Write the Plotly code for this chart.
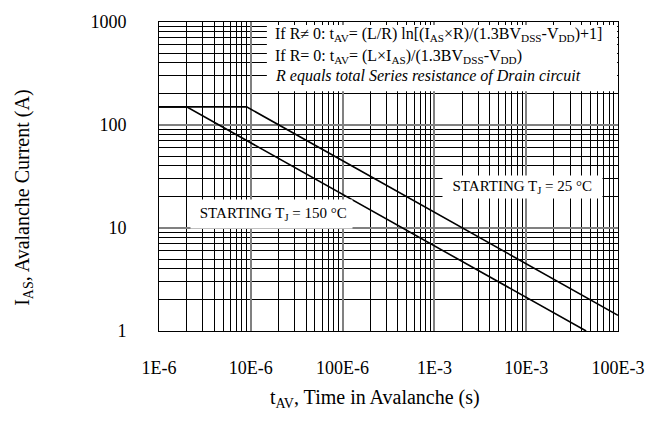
import plotly.graph_objects as go

# ---- data ----
t_25 = [1e-6, 9e-6, 1e-1]          # seconds
i_25 = [150, 150, 1.42]            # amps
t_150 = [1e-6, 2e-6, 4.5e-2]
i_150 = [150, 150, 1.0]

x_tickvals = [1e-6, 1e-5, 1e-4, 1e-3, 1e-2, 1e-1]
x_ticktext = ["1E-6", "10E-6", "100E-6", "1E-3", "10E-3", "100E-3"]
y_tickvals = [1, 10, 100, 1000]
y_ticktext = ["1", "10", "100", "1000"]

FONT = "Liberation Serif"

x_minor = [m * d for d in x_tickvals[:-1] for m in range(2, 10)]
y_minor = [m * d for d in y_tickvals[:-1] for m in range(2, 10)]

fig = go.Figure()
fig.add_trace(go.Scatter(x=t_25, y=i_25, mode="lines",
                         line=dict(color="black", width=1.6), showlegend=False))
fig.add_trace(go.Scatter(x=t_150, y=i_150, mode="lines",
                         line=dict(color="black", width=1.6), showlegend=False))

axis_common = dict(
    type="log", showgrid=True, gridcolor="#808080", gridwidth=2,
    showline=True, linecolor="black", linewidth=1, mirror=True,
    ticks="", zeroline=False,
    tickfont=dict(family=FONT, size=18, color="black"),
)

fig.update_xaxes(range=[-6, -1], tickvals=x_tickvals, ticktext=x_ticktext,
                 ticklabelstandoff=20,
                 minor=dict(tickvals=x_minor, showgrid=True, gridcolor="black",
                            gridwidth=1, ticks=""),
                 **axis_common)
fig.update_yaxes(range=[0, 3], tickvals=y_tickvals, ticktext=y_ticktext,
                 ticklabelstandoff=28,
                 minor=dict(tickvals=y_minor, showgrid=True, gridcolor="black",
                            gridwidth=1, ticks=""),
                 **axis_common)

# white box behind the formula text
fig.add_shape(type="rect", xref="paper", yref="paper",
              x0=0.235, x1=0.998, y0=0.776, y1=0.990,
              fillcolor="white", line=dict(width=0), layer="above")

ann = []
formula_lines = [
    ("If R\u2260 0: t<sub>AV</sub>= (L/R) ln[(I<sub>AS</sub>\u00d7R)/(1.3BV<sub>DSS</sub>-V<sub>DD</sub>)+1]", 0.958),
    ("If R= 0: t<sub>AV</sub>= (L\u00d7I<sub>AS</sub>)/(1.3BV<sub>DSS</sub>-V<sub>DD</sub>)", 0.888),
    ("<i>R equals total Series resistance of Drain circuit</i>", 0.826),
]
for txt, yy in formula_lines:
    ann.append(dict(text=txt, xref="paper", yref="paper", x=0.248, y=yy,
                    xanchor="left", yanchor="middle", showarrow=False,
                    font=dict(family=FONT, size=16, color="black")))

ann.append(dict(text="\u00a0\u00a0STARTING T<sub>J</sub> = 25 \u00b0C\u00a0\u00a0", xref="paper", yref="paper",
                x=0.791, y=0.465, xanchor="center", yanchor="middle", showarrow=False,
                bgcolor="white", borderpad=2,
                font=dict(family=FONT, size=15, color="black")))
ann.append(dict(text="\u00a0STARTING T<sub>J</sub> = 150 \u00b0C", xref="paper", yref="paper",
                x=0.245, y=0.378, xanchor="center", yanchor="middle", showarrow=False,
                bgcolor="white", borderpad=5,
                font=dict(family=FONT, size=15, color="black")))

# axis titles
ann.append(dict(text="t<sub>AV</sub>, Time in Avalanche (s)", xref="paper", yref="paper",
                x=0.47, y=-0.22, xanchor="center", yanchor="middle", showarrow=False,
                font=dict(family=FONT, size=20, color="black")))
ann.append(dict(text="I<sub>AS</sub>, Avalanche Current (A)", xref="paper", yref="paper",
                x=-0.297, y=0.43, xanchor="center", yanchor="middle", showarrow=False,
                textangle=-90,
                font=dict(family=FONT, size=20, color="black")))

fig.update_layout(
    width=657, height=425,
    margin=dict(l=159, r=38, t=17, b=94),
    paper_bgcolor="white", plot_bgcolor="white",
    annotations=ann, showlegend=False,
)

fig.write_html("out.html", config={"displayModeBar": False},
               post_script="document.body.style.margin='0';")
